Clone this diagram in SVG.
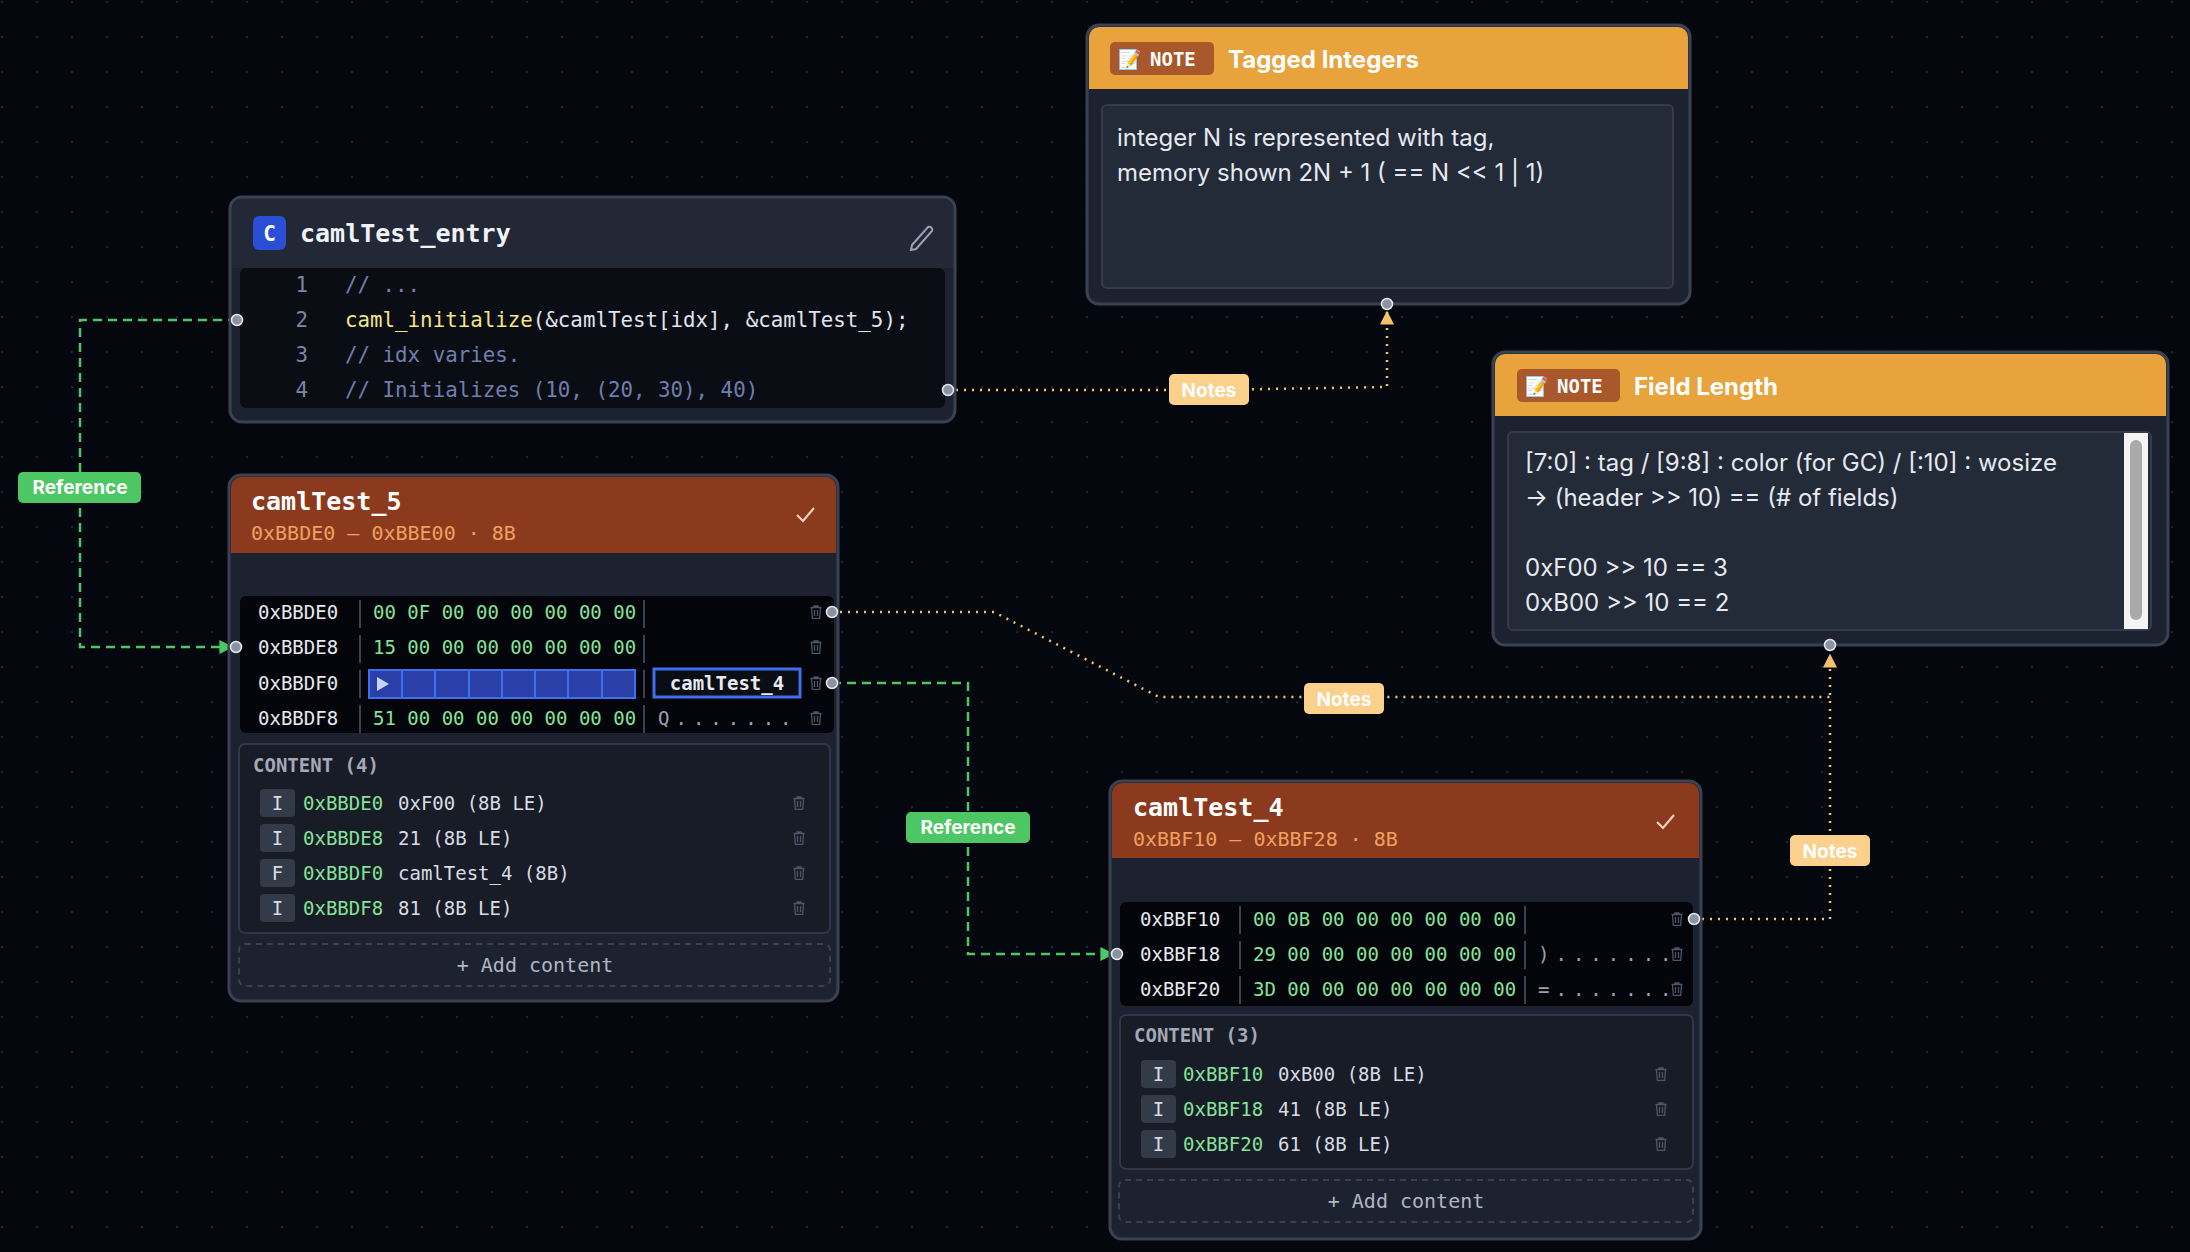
<svg xmlns="http://www.w3.org/2000/svg" width="2190" height="1252" viewBox="0 0 2190 1252">
<defs>
<pattern id="grid" width="35" height="35" patternUnits="userSpaceOnUse"><circle cx="2" cy="2" r="1.3" fill="#1c2230"/></pattern>
<marker id="ag" viewBox="0 0 10 10" refX="9" refY="5" markerWidth="14" markerHeight="14" markerUnits="userSpaceOnUse" orient="auto"><path d="M0,0 L10,5 L0,10 z" fill="#4cc764"/></marker>
<marker id="ay" viewBox="0 0 10 10" refX="9" refY="5" markerWidth="14" markerHeight="14" markerUnits="userSpaceOnUse" orient="auto"><path d="M0,0 L10,5 L0,10 z" fill="#f5c26b"/></marker>
<symbol id="trash" viewBox="0 0 12 14" width="12" height="14" overflow="visible"><path d="M0.5,2.5 H11.5 M4,2.5 V1 H8 V2.5 M1.5,2.5 L2.3,13.3 H9.7 L10.5,2.5 M4.5,5 V11 M7.5,5 V11" fill="none" stroke="#4d5566" stroke-width="1.3"/></symbol>
<style>
.mono{font-family:"DejaVu Sans Mono","Liberation Mono",monospace}
.sans{font-family:Inter,"Noto Sans","Liberation Sans",sans-serif}
.node{fill:#1c2230;stroke:#3a4252;stroke-width:3}
.addr{font-size:19px;fill:#e6e9f0}
.byte{font-size:19px;fill:#86e39a}
.asc{font-size:19px;fill:#9aa3b5}
.sep{stroke:#3a4252;stroke-width:2}
.port{fill:#8b93a3;stroke:#e6e9f0;stroke-width:1.5}
.ref{fill:none;stroke:#4cc764;stroke-width:2.5;stroke-dasharray:9 6}
.note{fill:none;stroke:#f5c26b;stroke-width:2.5;stroke-dasharray:2 6}
.lblg{fill:#4cc764}
.lbly{fill:#fbd08a}
.lbltxt{font-size:19px;font-weight:700;fill:#fff}
.cbox{fill:#171c27;stroke:#30374a;stroke-width:2}
.badge{fill:#333a48}
.btxt{font-size:19px;fill:#d8dce5}
.caddr{font-size:19px;fill:#86e39a}
.cval{font-size:19px;fill:#d8dce5}
.add{fill:none;stroke:#3a4252;stroke-width:2;stroke-dasharray:6 5}
.addt{font-size:20px;fill:#b0b6c2}
.ctitle{font-size:19px;fill:#a3a9b5;font-weight:700}
.mhead{fill:#8b3a1e}
.mtitle{font-size:25px;font-weight:700;fill:#fff}
.msub{font-size:20px;fill:#f0a060}
.ntext{font-size:24px;fill:#e6e9f0}
.code{font-size:20.8px}
</style>
</defs>
<rect width="2190" height="1252" fill="#05070f"/>
<rect width="2190" height="1252" fill="url(#grid)"/>

<g id="connectors">
<path class="ref" d="M237,320 H80 V647 H232" marker-end="url(#ag)"/>
<path class="ref" d="M832,683 H968 V954 H1113" marker-end="url(#ag)"/>
<path class="note" d="M948,390 H1208 L1387,387 V312" marker-end="url(#ay)"/>
<path class="note" d="M832,612 H994 L1159,697 H1830"/>
<path class="note" d="M1694,919 H1830 V655" marker-end="url(#ay)"/>
<rect class="lblg" x="18" y="472" width="123" height="31" rx="5"/>
<text class="sans lbltxt" x="80" y="494" text-anchor="middle">Reference</text>
<rect class="lblg" x="906" y="812" width="124" height="31" rx="5"/>
<text class="sans lbltxt" x="968" y="834" text-anchor="middle">Reference</text>
<rect class="lbly" x="1169" y="374" width="80" height="31" rx="5"/>
<text class="sans lbltxt" x="1209" y="397" text-anchor="middle">Notes</text>
<rect class="lbly" x="1304" y="683" width="80" height="31" rx="5"/>
<text class="sans lbltxt" x="1344" y="706" text-anchor="middle">Notes</text>
<rect class="lbly" x="1790" y="835" width="80" height="31" rx="5"/>
<text class="sans lbltxt" x="1830" y="858" text-anchor="middle">Notes</text>
</g>

<g id="camlTest_entry">
<rect class="node" x="230" y="197" width="725" height="225" rx="12"/>
<path d="M232,268 V209 a10,10 0 0 1 10,-10 H943 a10,10 0 0 1 10,10 V268 z" fill="#222836"/>
<rect x="240" y="268" width="705" height="140" rx="6" fill="#0b0d14"/>
<rect x="253" y="216" width="33" height="34" rx="6" fill="#2a4fd6"/>
<text class="mono" x="269.5" y="241" font-size="21" font-weight="700" fill="#fff" text-anchor="middle">C</text>
<text class="mono" x="300" y="242" font-size="25" font-weight="700" fill="#f0f2f6">camlTest_entry</text>
<path d="M912,245 l16,-18 a3,3 0 0 1 4,4 l-16,18 l-5,1 z" fill="none" stroke="#9aa3b5" stroke-width="2"/>
<g class="mono code" fill="#7d86a0">
<text x="308" y="292" text-anchor="end">1</text>
<text x="308" y="327" text-anchor="end">2</text>
<text x="308" y="362" text-anchor="end">3</text>
<text x="308" y="397" text-anchor="end">4</text>
</g>
<text class="mono code" x="345" y="292" fill="#6f7fae">// ...</text>
<text class="mono code" x="345" y="327"><tspan fill="#f4e58a">caml_initialize</tspan><tspan fill="#e0e4ee">(&amp;camlTest[idx], &amp;camlTest_5);</tspan></text>
<text class="mono code" x="345" y="362" fill="#6f7fae">// idx varies.</text>
<text class="mono code" x="345" y="397" fill="#6f7fae">// Initializes (10, (20, 30), 40)</text>
<circle class="port" cx="237" cy="320" r="5.5"/>
<circle class="port" cx="948" cy="390" r="5.5"/>
</g>

<g id="camlTest_5">
<rect class="node" x="229" y="475" width="609" height="526" rx="12" fill="#05070d"/>
<path d="M231,553 V487 a10,10 0 0 1 10,-10 H826 a10,10 0 0 1 10,10 V553 z" class="mhead"/>
<text class="mono mtitle" x="251" y="510">camlTest_5</text>
<text class="mono msub" x="251" y="540">0xBBDE0 – 0xBBE00 · 8B</text>
<path d="M797,515 l6,6 l11,-13" fill="none" stroke="#f3d2c0" stroke-width="2.2"/>
<rect x="240" y="596" width="594" height="137" rx="6" fill="#03050a"/>
<g class="mono">
<text class="addr" x="258" y="619">0xBBDE0</text>
<text class="addr" x="258" y="654">0xBBDE8</text>
<text class="addr" x="258" y="690">0xBBDF0</text>
<text class="addr" x="258" y="725">0xBBDF8</text>
<text class="byte" x="373" y="619">00 0F 00 00 00 00 00 00</text>
<text class="byte" x="373" y="654">15 00 00 00 00 00 00 00</text>
<text class="byte" x="373" y="725">51 00 00 00 00 00 00 00</text>
<text class="asc" x="658" y="725" letter-spacing="6">Q.......</text>
</g>
<g class="sep"><line x1="360" y1="600" x2="360" y2="628"/><line x1="360" y1="635" x2="360" y2="663"/><line x1="360" y1="670" x2="360" y2="698"/><line x1="360" y1="705" x2="360" y2="733"/>
<line x1="644" y1="600" x2="644" y2="628"/><line x1="644" y1="635" x2="644" y2="663"/><line x1="644" y1="670" x2="644" y2="698"/><line x1="644" y1="705" x2="644" y2="733"/></g>
<rect x="369" y="670" width="266" height="28" fill="#2a3fa8" stroke="#3d6ff0" stroke-width="2"/>
<g stroke="#3d6ff0" stroke-width="2"><line x1="402" y1="670" x2="402" y2="698"/><line x1="435" y1="670" x2="435" y2="698"/><line x1="469" y1="670" x2="469" y2="698"/><line x1="502" y1="670" x2="502" y2="698"/><line x1="535" y1="670" x2="535" y2="698"/><line x1="568" y1="670" x2="568" y2="698"/><line x1="602" y1="670" x2="602" y2="698"/></g>
<path d="M377,677 l12,7 l-12,7 z" fill="#c9d4ff"/>
<rect x="654" y="669" width="146" height="28" fill="#0b0d14" stroke="#3d6ff0" stroke-width="3"/>
<text class="mono" x="727" y="690" font-size="19" font-weight="700" fill="#e6e9f0" text-anchor="middle">camlTest_4</text>
<use href="#trash" x="810" y="605"/><use href="#trash" x="810" y="640"/><use href="#trash" x="810" y="676"/><use href="#trash" x="810" y="711"/>
<rect class="cbox" x="239" y="744" width="591" height="189" rx="6"/>
<text class="mono ctitle" x="253" y="772">CONTENT (4)</text>
<g class="mono">
<rect class="badge" x="260" y="789" width="35" height="28" rx="4"/><text class="btxt" x="277.5" y="810" text-anchor="middle">I</text>
<text class="caddr" x="303" y="810">0xBBDE0</text><text class="cval" x="398" y="810">0xF00 (8B LE)</text>
<rect class="badge" x="260" y="824" width="35" height="28" rx="4"/><text class="btxt" x="277.5" y="845" text-anchor="middle">I</text>
<text class="caddr" x="303" y="845">0xBBDE8</text><text class="cval" x="398" y="845">21 (8B LE)</text>
<rect class="badge" x="260" y="859" width="35" height="28" rx="4"/><text class="btxt" x="277.5" y="880" text-anchor="middle">F</text>
<text class="caddr" x="303" y="880">0xBBDF0</text><text class="cval" x="398" y="880">camlTest_4 (8B)</text>
<rect class="badge" x="260" y="894" width="35" height="28" rx="4"/><text class="btxt" x="277.5" y="915" text-anchor="middle">I</text>
<text class="caddr" x="303" y="915">0xBBDF8</text><text class="cval" x="398" y="915">81 (8B LE)</text>
</g>
<use href="#trash" x="793" y="796"/><use href="#trash" x="793" y="831"/><use href="#trash" x="793" y="866"/><use href="#trash" x="793" y="901"/>
<rect class="add" x="239" y="944" width="591" height="42" rx="6"/>
<text class="mono addt" x="535" y="972" text-anchor="middle">+ Add content</text>
<circle class="port" cx="236" cy="647" r="5.5"/>
<circle class="port" cx="832" cy="612" r="5.5"/>
<circle class="port" cx="832" cy="683" r="5.5"/>
</g>

<g id="camlTest_4">
<rect class="node" x="1110" y="781" width="591" height="458" rx="12" fill="#05070d"/>
<path d="M1112,858 V793 a10,10 0 0 1 10,-10 H1689 a10,10 0 0 1 10,10 V858 z" class="mhead"/>
<text class="mono mtitle" x="1133" y="816">camlTest_4</text>
<text class="mono msub" x="1133" y="846">0xBBF10 – 0xBBF28 · 8B</text>
<path d="M1657,822 l6,6 l11,-13" fill="none" stroke="#f3d2c0" stroke-width="2.2"/>
<rect x="1120" y="902" width="573" height="104" rx="6" fill="#03050a"/>
<g class="mono">
<text class="addr" x="1140" y="926">0xBBF10</text>
<text class="addr" x="1140" y="961">0xBBF18</text>
<text class="addr" x="1140" y="996">0xBBF20</text>
<text class="byte" x="1253" y="926">00 0B 00 00 00 00 00 00</text>
<text class="byte" x="1253" y="961">29 00 00 00 00 00 00 00</text>
<text class="byte" x="1253" y="996">3D 00 00 00 00 00 00 00</text>
<text class="asc" x="1538" y="961" letter-spacing="6">).......</text>
<text class="asc" x="1538" y="996" letter-spacing="6">=.......</text>
</g>
<g class="sep"><line x1="1240" y1="906" x2="1240" y2="934"/><line x1="1240" y1="941" x2="1240" y2="969"/><line x1="1240" y1="976" x2="1240" y2="1004"/>
<line x1="1525" y1="906" x2="1525" y2="934"/><line x1="1525" y1="941" x2="1525" y2="969"/><line x1="1525" y1="976" x2="1525" y2="1004"/></g>
<use href="#trash" x="1671" y="912"/><use href="#trash" x="1671" y="947"/><use href="#trash" x="1671" y="982"/>
<rect class="cbox" x="1120" y="1015" width="573" height="154" rx="6"/>
<text class="mono ctitle" x="1134" y="1042">CONTENT (3)</text>
<g class="mono">
<rect class="badge" x="1141" y="1060" width="35" height="28" rx="4"/><text class="btxt" x="1158.5" y="1081" text-anchor="middle">I</text>
<text class="caddr" x="1183" y="1081">0xBBF10</text><text class="cval" x="1278" y="1081">0xB00 (8B LE)</text>
<rect class="badge" x="1141" y="1095" width="35" height="28" rx="4"/><text class="btxt" x="1158.5" y="1116" text-anchor="middle">I</text>
<text class="caddr" x="1183" y="1116">0xBBF18</text><text class="cval" x="1278" y="1116">41 (8B LE)</text>
<rect class="badge" x="1141" y="1130" width="35" height="28" rx="4"/><text class="btxt" x="1158.5" y="1151" text-anchor="middle">I</text>
<text class="caddr" x="1183" y="1151">0xBBF20</text><text class="cval" x="1278" y="1151">61 (8B LE)</text>
</g>
<use href="#trash" x="1655" y="1067"/><use href="#trash" x="1655" y="1102"/><use href="#trash" x="1655" y="1137"/>
<rect class="add" x="1119" y="1180" width="574" height="42" rx="6"/>
<text class="mono addt" x="1406" y="1208" text-anchor="middle">+ Add content</text>
<circle class="port" cx="1117" cy="954" r="5.5"/>
<circle class="port" cx="1694" cy="919" r="5.5"/>
</g>

<g id="note_tagged_integers">
<rect class="node" x="1087" y="25" width="603" height="279" rx="12"/>
<path d="M1089,89 V37 a10,10 0 0 1 10,-10 H1678 a10,10 0 0 1 10,10 V89 z" fill="#e8a33d"/>
<rect x="1110" y="42" width="104" height="33" rx="5" fill="#a8582a"/>
<text class="sans" x="1118" y="66" font-size="19">📝</text>
<text class="mono" x="1150" y="66" font-size="19" font-weight="700" fill="#fff">NOTE</text>
<text class="sans" x="1228" y="68" font-size="24" font-weight="700" fill="#fff">Tagged Integers</text>
<rect x="1102" y="105" width="571" height="183" rx="5" fill="#232a38" stroke="#333b4c" stroke-width="2"/>
<text class="sans ntext" x="1117" y="146">integer N is represented with tag,</text>
<text class="sans ntext" x="1117" y="181">memory shown 2N + 1  ( == N &lt;&lt; 1 | 1)</text>
<circle class="port" cx="1387" cy="304" r="5.5"/>
</g>

<g id="note_field_length">
<rect class="node" x="1493" y="352" width="675" height="293" rx="12"/>
<path d="M1495,416 V364 a10,10 0 0 1 10,-10 H2156 a10,10 0 0 1 10,10 V416 z" fill="#e8a33d"/>
<rect x="1517" y="369" width="103" height="33" rx="5" fill="#a8582a"/>
<text class="sans" x="1525" y="393" font-size="19">📝</text>
<text class="mono" x="1557" y="393" font-size="19" font-weight="700" fill="#fff">NOTE</text>
<text class="sans" x="1634" y="395" font-size="24" font-weight="700" fill="#fff">Field Length</text>
<rect x="1508" y="432" width="643" height="198" rx="5" fill="#232a38" stroke="#333b4c" stroke-width="2"/>
<rect x="2124" y="433" width="24" height="196" fill="#f4f4f4"/>
<rect x="2130" y="440" width="12" height="180" rx="6" fill="#a9a9a9"/>
<text class="sans ntext" x="1525" y="471">[7:0] : tag / [9:8] : color (for GC) / [:10] : wosize</text>
<text class="sans ntext" x="1525" y="506">→ (header &gt;&gt; 10) == (# of fields)</text>
<text class="sans ntext" x="1525" y="576">0xF00 &gt;&gt; 10 == 3</text>
<text class="sans ntext" x="1525" y="611">0xB00 &gt;&gt; 10 == 2</text>
<circle class="port" cx="1830" cy="645" r="5.5"/>
</g>
</svg>
